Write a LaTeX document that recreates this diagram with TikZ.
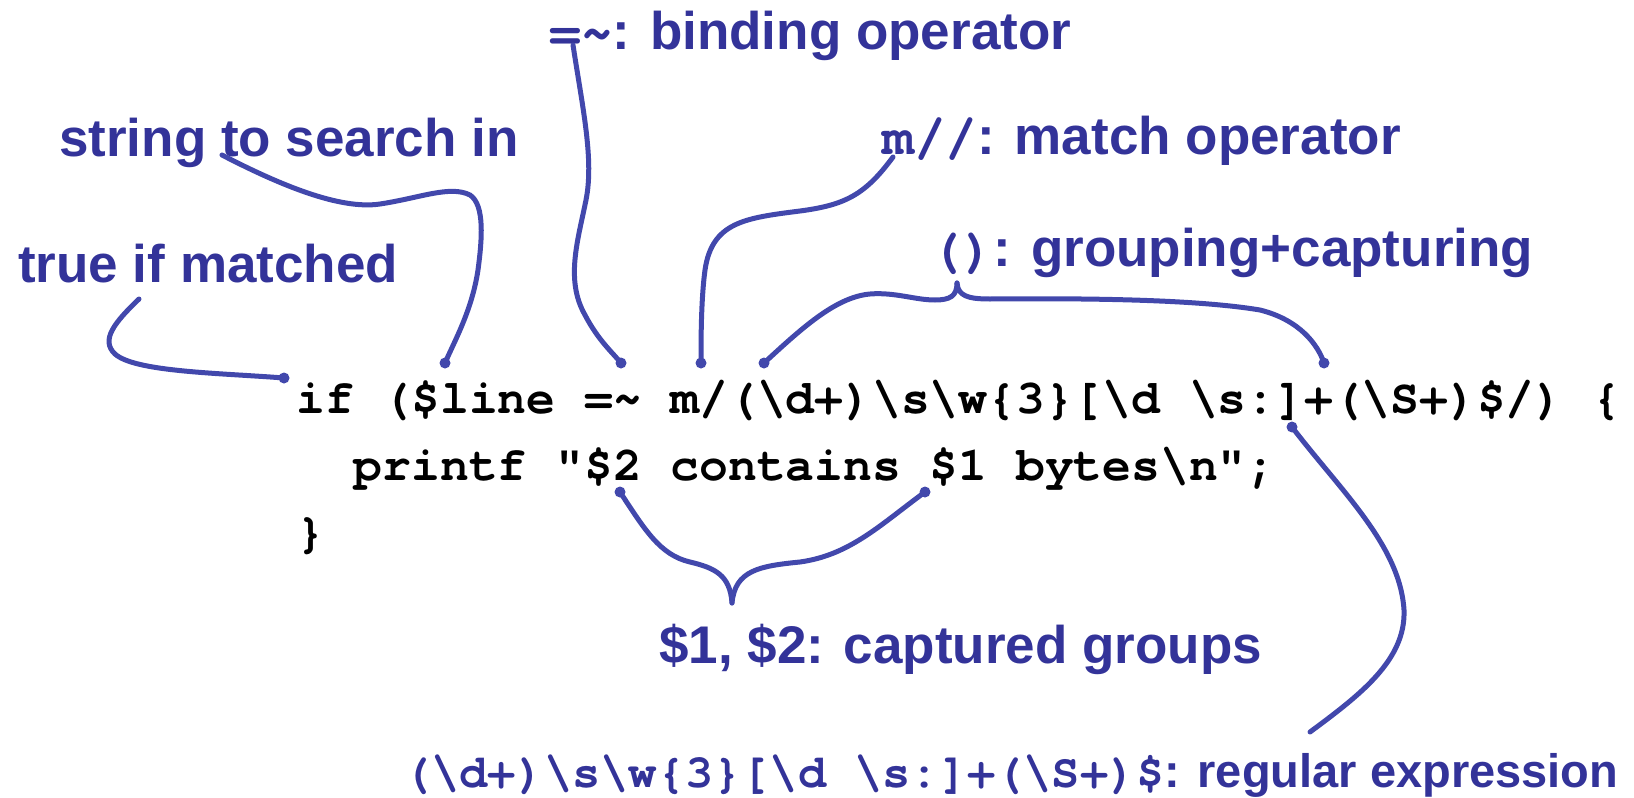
\documentclass[tikz,border=0pt]{standalone}
\usepackage{fontspec}
\setmainfont{Liberation Sans}
\setmonofont{TeX Gyre Cursor}
\definecolor{lbl}{RGB}{51,51,153}
\definecolor{ln}{RGB}{66,72,172}
\newcommand\mtt[1]{{\ttfamily #1}}
\tikzset{
  lab/.style={anchor=base west, inner sep=0pt, text=lbl, font=\rmfamily\bfseries\fontsize{53}{60}\selectfont},
  smalllab/.style={lab, font=\rmfamily\bfseries\fontsize{47}{54}\selectfont},
  code/.style={anchor=base west, inner sep=0pt, text=black, font=\ttfamily\bfseries\fontsize{48}{56}\selectfont},
  conn/.style={draw=ln, line width=5pt, line cap=round},
  pin/.style={fill=ln},
}
\begin{document}
\begin{tikzpicture}[x=1pt,y=-1pt]
\useasboundingbox (0,0) rectangle (1634,798);
% code
\node[code] (c1) at (296,413) {if (\$line =\textasciitilde{} m/(\textbackslash{}d+)\textbackslash{}s\textbackslash{}w\{3\}[\textbackslash{}d \textbackslash{}s:]+(\textbackslash{}S+)\$/) \{};
\node[code] (c2) at (353.6,480) {printf "\$2 contains \$1 bytes\textbackslash{}n";};
\node[code] (c3) at (296,547) {\}};
% labels
\node[lab] (Lbind) at (549,49) {\mtt{=\textasciitilde}: binding operator};
\node[lab] (Lstr) at (59,156) {string to search in};
\node[lab] (Ltrue) at (18,282) {true if matched};
\node[lab] (Lmatch) at (882,154) {\mtt{m//}: match operator};
\node[lab] (Lgroup) at (930,266) {\mtt{()}: grouping+capturing};
\node[lab] (Lcap) at (659,663) {\$1, \$2: captured groups};
\node[smalllab] (Lre) at (403,787) {\mtt{(\textbackslash{}d+)\textbackslash{}s\textbackslash{}w\{3\}[\textbackslash{}d \textbackslash{}s:]+(\textbackslash{}S+)\$}: regular expression};
% anchor points
\coordinate (dIf) at (284,378);
\coordinate (dLine) at (445,363);
\coordinate (dBind) at (621,363);
\coordinate (dM) at (701,363);
\coordinate (dP1) at (764,363);
\coordinate (dP2) at (1324,363);
\coordinate (dTwo) at (620,492);
\coordinate (dOne) at (925,492);
\coordinate (dRe) at (1292,427);
\coordinate (sTrue) at (139,299);
\coordinate (sStr) at (222,155);
\coordinate (sBind) at (573,45);
\coordinate (sM) at (893,157);
\coordinate (tG) at (957,283);
\coordinate (tC) at (732,603);
\coordinate (sRe) at (1310,732);
% connectors
\draw[conn] (sTrue) .. controls (115,322) and (100,340) .. (115,354) .. controls (135,372) and (220,373) .. (dIf);
\draw[conn] (sStr) .. controls (280,185) and (340,210) .. (380,204) .. controls (420,198) and (450,185) .. (470,195) .. controls (485,205) and (482,240) .. (478,270) .. controls (472,310) and (455,340) .. (dLine);
\draw[conn] (sBind) .. controls (583,110) and (594,160) .. (586,200) .. controls (578,240) and (565,280) .. (585,315) .. controls (598,340) and (612,352) .. (dBind);
\draw[conn] (sM) .. controls (865,195) and (845,205) .. (800,211) .. controls (745,218) and (712,222) .. (705,270) .. controls (701,300) and (701,340) .. (dM);
\draw[conn] (tG) .. controls (957,296) and (950,300) .. (935,300) .. controls (915,300) and (895,292) .. (870,294) .. controls (835,297) and (800,330) .. (dP1);
\draw[conn] (tG) .. controls (958,296) and (968,299) .. (990,299) .. controls (1100,298) and (1200,300) .. (1260,310) .. controls (1300,320) and (1318,345) .. (dP2);
\draw[conn] (dTwo) .. controls (645,530) and (660,555) .. (690,562) .. controls (715,568) and (730,575) .. (tC);
\draw[conn] (dOne) .. controls (880,525) and (850,555) .. (800,562) .. controls (760,566) and (735,570) .. (tC);
\draw[conn] (dRe) .. controls (1340,490) and (1400,545) .. (1404,610) .. controls (1406,660) and (1360,695) .. (sRe);
% dots
\foreach \p in {dIf,dLine,dBind,dM,dP1,dP2,dTwo,dOne,dRe}
  \fill[pin] (\p) circle (5.5);
\end{tikzpicture}
\end{document}
